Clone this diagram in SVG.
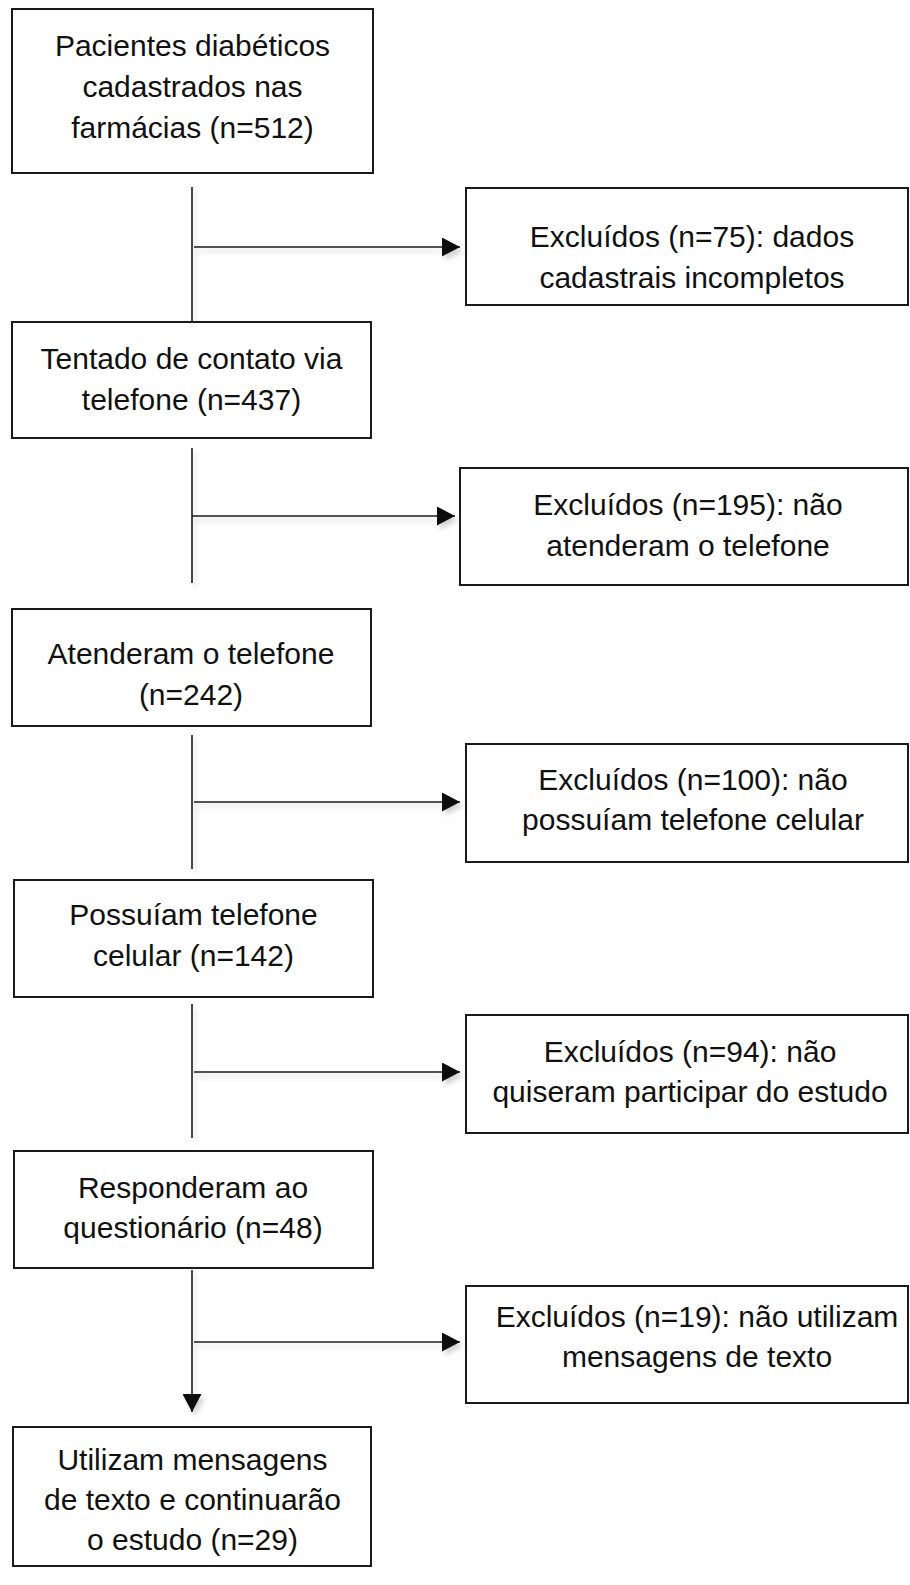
<svg xmlns="http://www.w3.org/2000/svg" width="910" height="1585" viewBox="0 0 910 1585">
<style>
.box{fill:#fff;stroke:#1a1a1a;stroke-width:2}
.t{font-family:"Liberation Sans",Arial,sans-serif;font-size:30px;fill:#111;text-anchor:middle}
.c{stroke:#1a1a1a;stroke-width:1.6;fill:none}
</style>
<defs>
<filter id="sh" x="-20%" y="-20%" width="140%" height="140%">
<feDropShadow dx="3" dy="4" stdDeviation="2.5" flood-color="#000" flood-opacity="0.18"/>
</filter>
<marker id="ah" viewBox="0 0 18 19" refX="18" refY="9.5" markerWidth="18" markerHeight="19" markerUnits="userSpaceOnUse" orient="auto">
<path d="M0,0 L18,9.5 L0,19 Z" fill="#111"/>
</marker>
</defs>
<rect width="910" height="1585" fill="#fff"/>
<g id="connectors" filter="url(#sh)">
<line class="c" x1="192" y1="187" x2="192" y2="322"/>
<line class="c" x1="194" y1="247" x2="460" y2="247" marker-end="url(#ah)"/>
<line class="c" x1="192" y1="448" x2="192" y2="583"/>
<line class="c" x1="192" y1="516" x2="455" y2="516" marker-end="url(#ah)"/>
<line class="c" x1="192" y1="735" x2="192" y2="869"/>
<line class="c" x1="194" y1="802" x2="460" y2="802" marker-end="url(#ah)"/>
<line class="c" x1="192" y1="1004" x2="192" y2="1138"/>
<line class="c" x1="194" y1="1072" x2="460" y2="1072" marker-end="url(#ah)"/>
<line class="c" x1="192" y1="1270" x2="192" y2="1412" marker-end="url(#ah)"/>
<line class="c" x1="194" y1="1342" x2="460" y2="1342" marker-end="url(#ah)"/>
</g>
<g id="n1"><rect class="box" x="12" y="9" width="361" height="164"/>
<text class="t" x="192.5" y="56">Pacientes diabéticos</text>
<text class="t" x="192.5" y="97">cadastrados nas</text>
<text class="t" x="192.5" y="138">farmácias (n=512)</text></g>
<g id="n2"><rect class="box" x="466" y="188" width="442" height="117"/>
<text class="t" x="692" y="247">Excluídos (n=75): dados</text>
<text class="t" x="692" y="288">cadastrais incompletos</text></g>
<g id="n3"><rect class="box" x="12" y="322" width="359" height="116"/>
<text class="t" x="191.5" y="369">Tentado de contato via</text>
<text class="t" x="191.5" y="410">telefone (n=437)</text></g>
<g id="n4"><rect class="box" x="460" y="468" width="448" height="117"/>
<text class="t" x="688" y="515">Excluídos (n=195): não</text>
<text class="t" x="688" y="556">atenderam o telefone</text></g>
<g id="n5"><rect class="box" x="12" y="609" width="359" height="117"/>
<text class="t" x="191" y="664">Atenderam o telefone</text>
<text class="t" x="191" y="705">(n=242)</text></g>
<g id="n6"><rect class="box" x="466" y="744" width="442" height="118"/>
<text class="t" x="693" y="790">Excluídos (n=100): não</text>
<text class="t" x="693" y="830">possuíam telefone celular</text></g>
<g id="n7"><rect class="box" x="14" y="880" width="359" height="117"/>
<text class="t" x="193.5" y="925">Possuíam telefone</text>
<text class="t" x="193.5" y="966">celular (n=142)</text></g>
<g id="n8"><rect class="box" x="466" y="1015" width="442" height="118"/>
<text class="t" x="690" y="1062">Excluídos (n=94): não</text>
<text class="t" x="690" y="1102">quiseram participar do estudo</text></g>
<g id="n9"><rect class="box" x="14" y="1151" width="359" height="117"/>
<text class="t" x="193" y="1198">Responderam ao</text>
<text class="t" x="193" y="1238">questionário (n=48)</text></g>
<g id="n10"><rect class="box" x="466" y="1286" width="442" height="117"/>
<text class="t" x="697" y="1327">Excluídos (n=19): não utilizam</text>
<text class="t" x="697" y="1367">mensagens de texto</text></g>
<g id="n11"><rect class="box" x="13" y="1427" width="358" height="139"/>
<text class="t" x="192.5" y="1470">Utilizam mensagens</text>
<text class="t" x="192.5" y="1510">de texto e continuarão</text>
<text class="t" x="192.5" y="1550">o estudo (n=29)</text></g>
</svg>
